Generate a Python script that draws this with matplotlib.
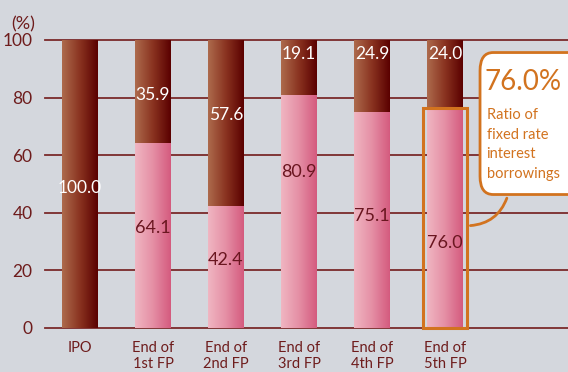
import numpy as np
import matplotlib.pyplot as plt
from matplotlib.colors import LinearSegmentedColormap
from matplotlib.patches import FancyBboxPatch, Rectangle, FancyArrowPatch

plt.rcParams['font.family'] = ['Lato', 'DejaVu Sans']

# dati
categorie = ["IPO", "End of\n1st FP", "End of\n2nd FP", "End of\n3rd FP", "End of\n4th FP", "End of\n5th FP"]
fisso = [0.0, 64.1, 42.4, 80.9, 75.1, 76.0]      # parte rosa (tasso fisso)
variabile = [100.0, 35.9, 57.6, 19.1, 24.9, 24.0]  # parte scura
yticks = [0, 20, 40, 60, 80, 100]

# posizioni delle etichette (solo layout)
y_rosa = [None, 34.7, 23.6, 54.0, 39.0, 29.5]
y_scura = [48.6, 81.0, 74.0, 95.0, 95.0, 95.0]

sfondo = "#d4d7dd"
rosso = "#6e1c1c"
arancio = "#d2731f"

cmap_scura = LinearSegmentedColormap.from_list("scura", ["#ad6b4d", "#8a3320", "#5a0000"])
cmap_rosa = LinearSegmentedColormap.from_list("rosa", ["#f0b6c2", "#e58fa5", "#d45a7e"])
grad = np.linspace(0, 1, 256).reshape(1, -1)

fig = plt.figure(figsize=(5.68, 3.72), dpi=100, facecolor=sfondo)
ax = fig.add_axes([45 / 568, 1 - 328 / 372, 1 - 45 / 568, (328 - 40) / 372])
ax.set_facecolor(sfondo)

x = np.arange(len(categorie))
w = 0.49

# griglia
for t in yticks:
    ax.axhline(t, color="#7a2a2a", lw=1.3, zorder=1, clip_on=False)

barre_rosa = ax.bar(x, fisso, w, color="none", zorder=2)
barre_scure = ax.bar(x, variabile, w, bottom=fisso, color="none", zorder=2)

for barre, cm in [(barre_rosa, cmap_rosa), (barre_scure, cmap_scura)]:
    for b in barre:
        if b.get_height() <= 0:
            continue
        x0, y0 = b.get_x(), b.get_y()
        img = ax.imshow(grad, cmap=cm, aspect="auto", zorder=2,
                        extent=[x0, x0 + b.get_width(), y0, y0 + b.get_height()])
        img.set_clip_path(b)

# etichette valori
for i in range(len(categorie)):
    if fisso[i] > 0:
        ax.text(x[i], y_rosa[i], f"{fisso[i]:.1f}", ha="center", va="center",
                color="#6a1620", fontsize=13, zorder=5)
    ax.text(x[i], y_scura[i], f"{variabile[i]:.1f}", ha="center", va="center",
            color="white", fontsize=12.5, zorder=5)

ax.set_xlim(-0.479, 6.685)
ax.set_ylim(0, 100)
ax.set_yticks(yticks)
ax.set_xticks(x)
ax.set_xticklabels(categorie, fontsize=10.5, color=rosso, linespacing=1.2)
ax.tick_params(axis="y", length=0, pad=9, labelsize=12.5, labelcolor=rosso)
ax.tick_params(axis="x", length=0, pad=9)
for s in ax.spines.values():
    s.set_visible(False)

fig.text(11 / 568, 1 - 24 / 372, "(%)", fontsize=13, color=rosso, va="center")

# riquadro attorno alla 5a barra
ax.add_patch(Rectangle((5 - 0.3, 0), 0.6, fisso[5] + 0.5, fill=False,
                       ec=arancio, lw=2.2, zorder=6, clip_on=False))

# fumetto
ax.add_patch(FancyBboxPatch((5.51, 47.4), 1.5, 47.2,
                            boxstyle="round,pad=0.03,rounding_size=0.18",
                            mutation_aspect=35, fc="white", ec=arancio, lw=2,
                            zorder=7, clip_on=False))
ax.add_patch(FancyArrowPatch((5.86, 46.0), (5.31, 35.5), arrowstyle="-",
                             connectionstyle="arc3,rad=-0.35", color=arancio,
                             lw=2, zorder=7, clip_on=False))
ax.text(5.54, 85.4, "76.0%", fontsize=20, color=arancio, va="center", zorder=8)
ax.text(5.57, 63.7, "Ratio of\nfixed rate\ninterest\nborrowings", fontsize=10.5,
        color=arancio, va="center", linespacing=1.5, zorder=8)

fig.savefig("out.png", dpi=100, facecolor=sfondo)
